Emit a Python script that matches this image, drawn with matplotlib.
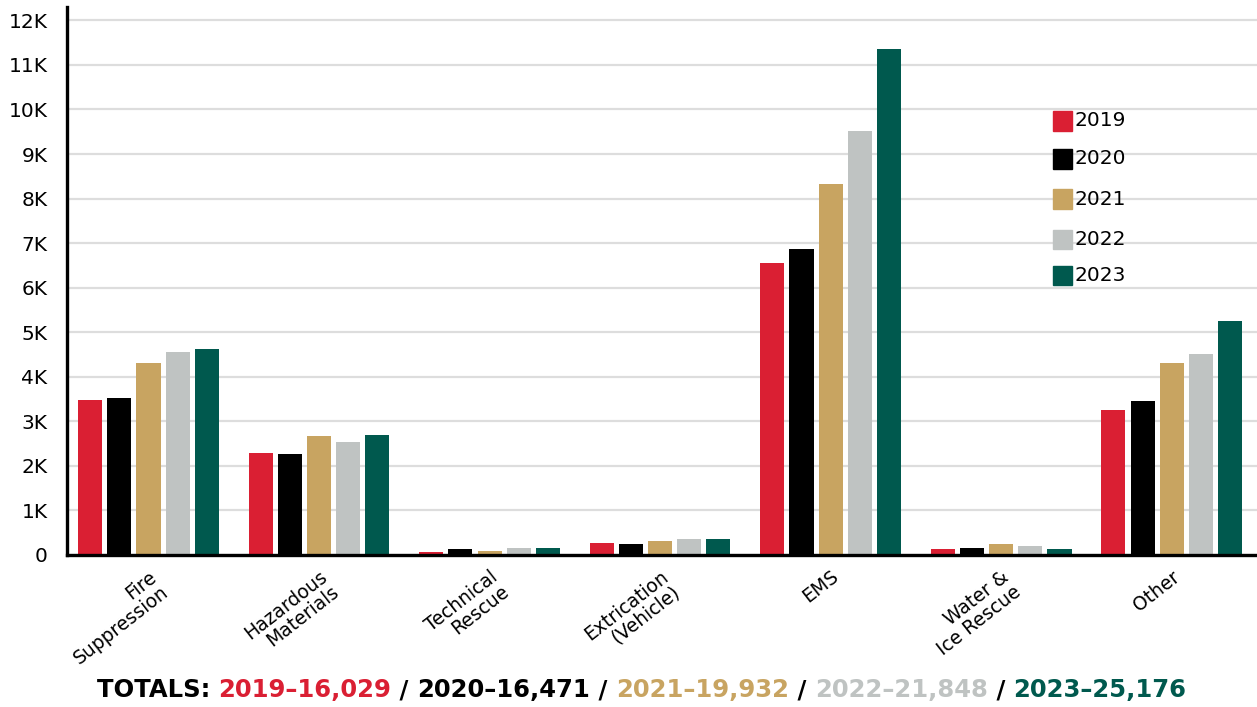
import numpy as np
import matplotlib
matplotlib.use("Agg")
import matplotlib.pyplot as plt
import matplotlib.transforms as mtransforms

categories = ["Fire\nSuppression", "Hazardous\nMaterials", "Technical\nRescue",
              "Extrication\n(Vehicle)", "EMS", "Water &\nIce Rescue", "Other"]
years = ["2019", "2020", "2021", "2022", "2023"]
values = {
    "2019": [3490, 2300, 60, 260, 6550, 130, 3260],
    "2020": [3530, 2270, 130, 240, 6870, 150, 3450],
    "2021": [4300, 2680, 100, 310, 8320, 240, 4300],
    "2022": [4550, 2540, 150, 350, 9520, 200, 4510],
    "2023": [4620, 2700, 150, 370, 11360, 130, 5250],
}
totals = ["16,029", "16,471", "19,932", "21,848", "25,176"]
colors = ["#DA1F33", "#000000", "#C8A461", "#BFC3C2", "#00594E"]
yticks = [0, 1000, 2000, 3000, 4000, 5000, 6000, 7000, 8000, 9000, 10000, 11000, 12000]
ytick_labels = ["0"] + [f"{k}K" for k in range(1, 13)]

plt.rcParams['font.family'] = ['DejaVu Sans']

fig = plt.figure(figsize=(12.57, 7.07), dpi=100)
ax = fig.add_axes([67 / 1257, 1 - 555 / 707, 1 - 67 / 1257, (555 - 7) / 707])

x = np.arange(len(categories))
step = 0.171
width = 0.141
for i, yr in enumerate(years):
    ax.bar(x + (i - 2) * step, values[yr], width=width, color=colors[i], zorder=3, label=yr)

ax.set_xlim(-0.478, 6.50)
ax.set_ylim(0, 12300)
ax.set_yticks(yticks)
ax.set_yticklabels(ytick_labels)
ax.yaxis.grid(True, color="#DDDDDD", linewidth=1.6, zorder=0)
ax.set_axisbelow(True)
for s in ["top", "right"]:
    ax.spines[s].set_visible(False)
ax.spines["left"].set_linewidth(2.4)
ax.spines["bottom"].set_linewidth(2.4)
ax.spines["bottom"].set_zorder(4)
ax.tick_params(axis="y", length=0, pad=14, labelsize=14.5)
ax.tick_params(axis="x", length=0)

ax.set_xticks(x)
ax.set_xticklabels([])
offset = mtransforms.ScaledTranslation(0 / 100, -12 / 100, fig.dpi_scale_trans)
for xi, lab in zip(x, categories):
    ax.text(xi, 0, lab, transform=mtransforms.blended_transform_factory(ax.transData, ax.transAxes) + offset,
            rotation=38, rotation_mode="anchor", ha="right", va="top",
            multialignment="right", fontsize=13.5, linespacing=1.0)

# legend drawn as squares + text
leg_y = [121, 159, 199, 240, 276]
for i, yr in enumerate(years):
    yf = 1 - leg_y[i] / 707
    fig.patches.append(plt.Rectangle((1053 / 1257, yf - 9.5 / 707), 19 / 1257, 19 / 707,
                                     transform=fig.transFigure, color=colors[i]))
    fig.text(1075 / 1257, yf, yr, fontsize=14.5, va="center", ha="left")

# multi-colored totals line
segments = [("TOTALS: ", "#000000")]
for i, yr in enumerate(years):
    segments.append((f"{yr}\u2013{totals[i]}", colors[i]))
    if i < len(years) - 1:
        segments.append((" / ", "#000000"))

renderer = fig.canvas.get_renderer()
texts = []
xpos = 0
for s, c in segments:
    t = fig.text(0, 1 - 690 / 707, s, color=c, fontsize=17.5, fontweight="bold", va="center", ha="left")
    t.set_x(xpos)
    bb = t.get_window_extent(renderer=renderer)
    xpos += bb.width / fig.bbox.width
    texts.append(t)
start = 641.5 / 1257 - xpos / 2
for t in texts:
    t.set_x(t.get_position()[0] + start)

fig.savefig("out.png", dpi=100)
